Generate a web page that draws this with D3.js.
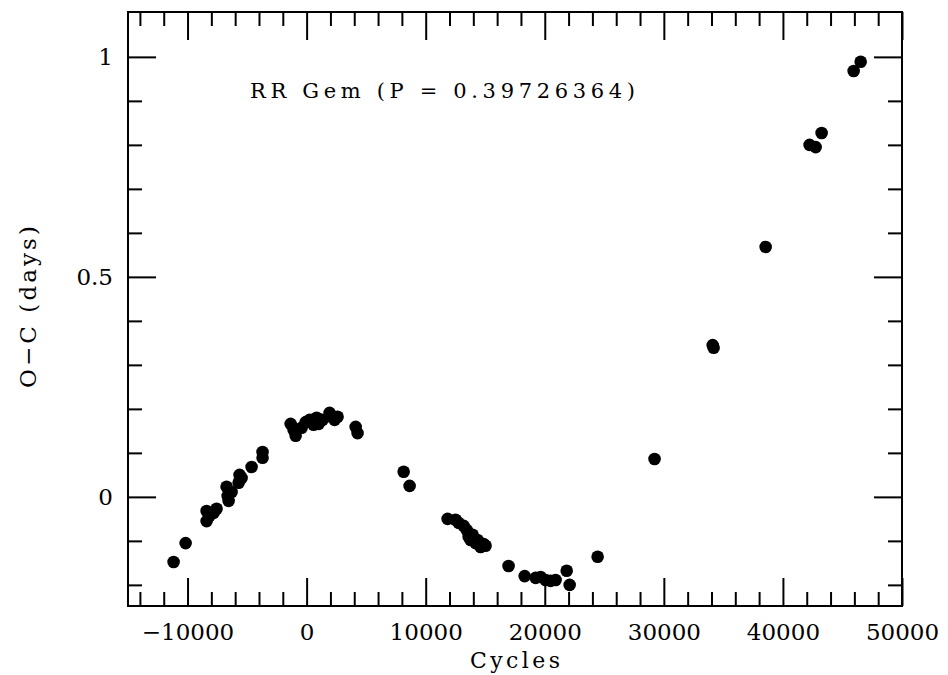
<!DOCTYPE html>
<html><head><meta charset="utf-8">
<script src="https://cdn.jsdelivr.net/npm/d3@7"></script>
<style>body{margin:0;background:#fff}svg{display:block}</style>
</head><body>
<script>
// Data (cycles, O-C days)
const cycles = [-11170,-10160,-8400,-8400,-8150,-7810,-7560,-6720,-6630,-6550,-6300,-5710,-5630,-5460,-4620,-3700,-3700,
  -1340,-1090,-920,-420,-80,250,590,840,1010,1340,1930,2100,2350,2600,4120,4280,
  8150,8650,11840,12510,12770,13190,13440,13610,13770,13940,14190,14360,14610,14860,15030,
  16960,18310,19230,19650,20070,20490,20910,21840,22090,24440,29220,34100,34180,38550,42240,42750,43250,45940,46530];
const oc = [-0.148,-0.105,-0.032,-0.055,-0.043,-0.036,-0.027,0.023,0.002,-0.009,0.011,0.032,0.050,0.043,0.068,0.089,0.102,
  0.166,0.152,0.139,0.157,0.170,0.175,0.164,0.180,0.166,0.175,0.191,0.182,0.175,0.182,0.159,0.145,
  0.057,0.025,-0.050,-0.052,-0.059,-0.066,-0.075,-0.091,-0.098,-0.086,-0.105,-0.098,-0.114,-0.107,-0.111,
  -0.157,-0.180,-0.184,-0.182,-0.189,-0.191,-0.189,-0.168,-0.200,-0.136,0.086,0.345,0.339,0.568,0.800,0.795,0.827,0.968,0.989];
const xMajorTicks = [-10000,0,10000,20000,30000,40000,50000];
const xTickLabels = ["\u221210000","0","10000","20000","30000","40000","50000"];
const xMinorTicks = [-14000,-12000,-8000,-6000,-4000,-2000,2000,4000,6000,8000,12000,14000,16000,18000,22000,24000,26000,28000,32000,34000,36000,38000,42000,44000,46000,48000];
const yMajorTicks = [0,0.5,1];
const yTickLabels = ["0","0.5","1"];
const yMinorTicks = [-0.2,-0.1,0.1,0.2,0.3,0.4,0.6,0.7,0.8,0.9];
const titleText = "RR Gem (P = 0.39726364)";
const xTitle = "Cycles";
const yTitle = "O\u2212C (days)";

const W = 948, H = 675;
const m = {left:128, right:46, top:12, bottom:69};
const iw = W - m.left - m.right, ih = H - m.top - m.bottom;

const svg = d3.select("body").append("svg").attr("width", W).attr("height", H);
const g = svg.append("g").attr("transform", `translate(${m.left},${m.top})`);

const x = d3.scaleLinear().domain([-15000, 50000]).range([0, iw]);
const y = d3.scaleLinear().domain([-0.248, 1.102]).range([ih, 0]);

const font = "'DejaVu Serif', serif";
const MAJ = 28, MIN = 14;

function styleAxis(sel){
  sel.select(".domain").remove();
  sel.selectAll(".tick line").attr("stroke","#000").attr("stroke-width",2);
  sel.selectAll(".tick text").attr("font-family", font).attr("font-size", 23).attr("fill","#000");
}

// bottom major with labels
g.append("g").attr("transform",`translate(0,${ih})`)
  .call(d3.axisBottom(x).tickValues(xMajorTicks).tickSize(-MAJ).tickPadding(18)
    .tickFormat((d,i)=>xTickLabels[i])).call(styleAxis);
g.append("g").attr("transform",`translate(0,${ih})`)
  .call(d3.axisBottom(x).tickValues(xMinorTicks).tickSize(-MIN).tickFormat("")).call(styleAxis);
// top
g.append("g").call(d3.axisTop(x).tickValues(xMajorTicks).tickSize(-MAJ).tickFormat("")).call(styleAxis);
g.append("g").call(d3.axisTop(x).tickValues(xMinorTicks).tickSize(-MIN).tickFormat("")).call(styleAxis);
// left
g.append("g").call(d3.axisLeft(y).tickValues(yMajorTicks).tickSize(-MAJ).tickPadding(15)
    .tickFormat((d,i)=>yTickLabels[i])).call(styleAxis);
g.append("g").call(d3.axisLeft(y).tickValues(yMinorTicks).tickSize(-MIN).tickFormat("")).call(styleAxis);
// right
g.append("g").attr("transform",`translate(${iw},0)`)
  .call(d3.axisRight(y).tickValues(yMajorTicks).tickSize(-MAJ).tickFormat("")).call(styleAxis);
g.append("g").attr("transform",`translate(${iw},0)`)
  .call(d3.axisRight(y).tickValues(yMinorTicks).tickSize(-MIN).tickFormat("")).call(styleAxis);

// frame
g.append("rect").attr("x",0).attr("y",0).attr("width",iw).attr("height",ih)
  .attr("fill","none").attr("stroke","#000").attr("stroke-width",2);

// points
g.append("g").selectAll("circle").data(cycles.map((c,i)=>[c,oc[i]])).join("circle")
  .attr("cx",d=>x(d[0])).attr("cy",d=>y(d[1])).attr("r",6.3).attr("fill","#000");

// title inside plot
svg.append("text").attr("x",250).attr("y",98).attr("font-family",font).attr("font-size",21)
  .attr("textLength",385).attr("lengthAdjust","spacing").attr("fill","#000").text(titleText);

// axis titles
svg.append("text").attr("x", m.left + iw/2).attr("y",668).attr("text-anchor","middle")
  .attr("font-family",font).attr("font-size",22).attr("textLength",90).attr("lengthAdjust","spacing")
  .attr("fill","#000").text(xTitle);
svg.append("text").attr("transform",`translate(36,${m.top + ih/2 - 2}) rotate(-90)`).attr("text-anchor","middle")
  .attr("font-family",font).attr("font-size",23).attr("textLength",162).attr("lengthAdjust","spacing")
  .attr("fill","#000").text(yTitle);
</script>
</body></html>
